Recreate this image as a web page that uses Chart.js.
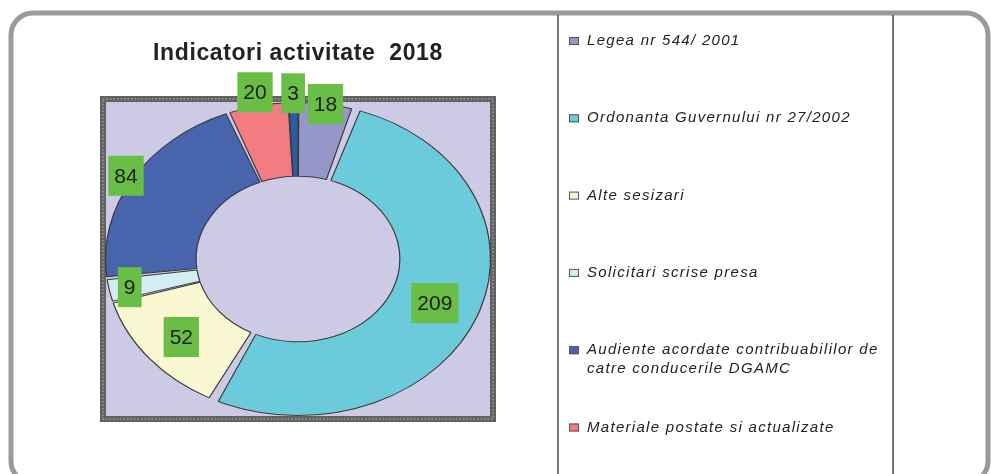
<!DOCTYPE html>
<html>
<head>
<meta charset="utf-8">
<title>Indicatori activitate 2018</title>
<script src="https://cdn.jsdelivr.net/npm/chart.js@4/dist/chart.umd.min.js"></script>
<style>
  html, body { margin: 0; padding: 0; background: #fff; }
  #wrap { position: relative; width: 991px; height: 474px; }
</style>
</head>
<body>
<div id="wrap"><canvas id="myChart"></canvas></div>
<script>
// slices, clockwise from 12 o'clock
const categories = [
    'Legea nr 544/ 2001',
    'Ordonanta Guvernului nr 27/2002',
    'Alte sesizari',
    'Solicitari scrise presa',
    'Audiente acordate contribuabililor de catre conducerile DGAMC',
    'Materiale postate si actualizate',
    '' // 7th legend entry is cut off in the original
]
const values = [18, 209, 52, 9, 84, 20, 3]
const sliceColors = ['#9697c8', '#6bcbdb', '#faf8d2', '#d3eef3', '#4764ad', '#f27c81', '#2a5da8']

;(() => {
    'use strict'

    const stretch = 1.23 // the scanned ring is wider than tall
    const labelRing = [1.02, 0.78, 0.80, 0.91, 1.06, 1.11, 1.08]

    const decor = {
        id: 'decor',
        beforeDraw(chart) {
            const ctx = chart.ctx
            const ca = chart.chartArea
            ctx.save()
            ctx.fillStyle = '#fff'
            ctx.fillRect(0, 0, chart.width, chart.height)

            // outer rounded frame
            ctx.strokeStyle = '#9a9a9a'
            ctx.lineWidth = 5
            ctx.beginPath()
            ctx.roundRect(11, 13, 977, 470, 22)
            ctx.stroke()

            // legend box lines
            ctx.strokeStyle = '#222'
            ctx.lineWidth = 1.2
            ctx.beginPath()
            ctx.moveTo(558, 15); ctx.lineTo(558, 474)
            ctx.moveTo(893, 15); ctx.lineTo(893, 474)
            ctx.stroke()

            // plot area
            ctx.fillStyle = '#cccae4'
            ctx.fillRect(ca.left, ca.top, ca.width, ca.height)
            ctx.strokeStyle = '#626262'
            ctx.lineWidth = 6
            ctx.strokeRect(ca.left - 3, ca.top - 3, ca.width + 6, ca.height + 6)
            ctx.strokeStyle = '#9c9c9c'
            ctx.lineWidth = 1.5
            ctx.setLineDash([1.5, 2])
            ctx.strokeRect(ca.left - 3, ca.top - 3, ca.width + 6, ca.height + 6)
            ctx.restore()

            ctx.letterSpacing = '0.6px' // for the title
        },
        beforeDatasetsDraw(chart) {
            const ctx = chart.ctx
            ctx.letterSpacing = '0px'
            const arc = chart.getDatasetMeta(0).data[0]
            ctx.save()
            ctx.translate(arc.x, arc.y)
            ctx.scale(stretch, 1)
            ctx.translate(-arc.x, -arc.y)
        },
        afterDatasetsDraw(chart) {
            chart.ctx.restore()
        },
        afterDraw(chart) {
            const ctx = chart.ctx
            const meta = chart.getDatasetMeta(0)
            ctx.save()

            // green value boxes
            ctx.font = '21px "Liberation Sans", Arial'
            ctx.textAlign = 'center'
            ctx.textBaseline = 'middle'
            meta.data.forEach((arc, i) => {
                const p = arc.getProps(['x', 'y', 'startAngle', 'endAngle', 'outerRadius'], true)
                const mid = (p.startAngle + p.endAngle) / 2
                const r = p.outerRadius * labelRing[i]
                const px = p.x + Math.cos(mid) * r * stretch
                const py = p.y + Math.sin(mid) * r
                const txt = String(values[i])
                const w = ctx.measureText(txt).width + 12
                const h = 40
                ctx.fillStyle = '#6bbe45'
                ctx.fillRect(px - w / 2, py - h / 2, w, h)
                ctx.fillStyle = '#1e1e1e'
                ctx.fillText(txt, px, py + 1)
            })

            // legend
            ctx.textAlign = 'left'
            ctx.font = 'italic 15px "Liberation Sans", Arial'
            ctx.letterSpacing = '1.3px'
            categories.forEach((cat, i) => {
                if (!cat) return
                const y = 41 + i * 77.3
                ctx.fillStyle = sliceColors[i]
                ctx.fillRect(569, y - 4, 10, 8)
                ctx.strokeStyle = '#555'
                ctx.lineWidth = 1
                ctx.strokeRect(569.5, y - 3.5, 9, 7)
                ctx.fillStyle = '#222'
                const words = cat.split(' ')
                const lines = []
                let line = ''
                words.forEach(wd => {
                    const test = line ? line + ' ' + wd : wd
                    if (line && ctx.measureText(test).width > 305) {
                        lines.push(line)
                        line = wd
                    } else {
                        line = test
                    }
                })
                lines.push(line)
                lines.forEach((ln, k) => ctx.fillText(ln, 587, y + k * 19))
            })
            ctx.restore()
        }
    }

    const ctx = document.getElementById('myChart')
    // eslint-disable-next-line no-unused-vars
    const myChart = new Chart(ctx, {
        type: 'doughnut',
        data: {
            labels: categories,
            datasets: [{
                data: values,
                backgroundColor: sliceColors,
                borderColor: '#3c3c3c',
                borderWidth: 1,
                spacing: 6,
                clip: false
            }]
        },
        options: {
            responsive: true,
            maintainAspectRatio: false,
            animation: false,
            events: [],
            cutout: '52%',
            layout: {
                padding: { left: 106, right: 501, top: 30, bottom: 58 }
            },
            plugins: {
                legend: { display: false },
                tooltip: { enabled: false },
                title: {
                    display: true,
                    text: 'Indicatori activitate  2018',
                    color: '#222',
                    font: { family: '"Liberation Sans", Arial', size: 23, weight: 'bold' },
                    padding: { top: 10, bottom: 34.4 }
                }
            }
        },
        plugins: [decor]
    })
})()
</script>
</body>
</html>
